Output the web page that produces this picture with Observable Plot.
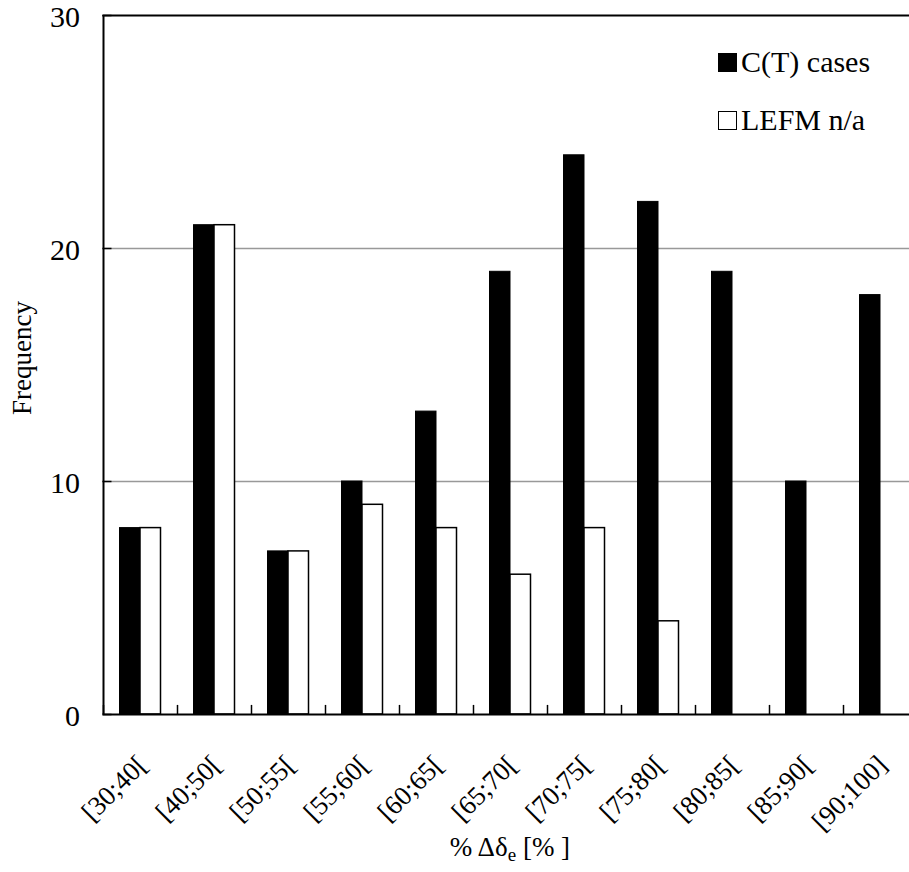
<!DOCTYPE html>
<html>
<head>
<meta charset="utf-8">
<script src="https://cdn.jsdelivr.net/npm/d3@7"></script>
<script src="https://cdn.jsdelivr.net/npm/@observablehq/plot@0.6"></script>
<style>
  html, body { margin: 0; padding: 0; background: white; overflow: hidden; }
  #wrap { position: relative; width: 909px; height: 872px; color: black; }
  #wrap, #wrap * { font-family: "Times New Roman", "Liberation Serif", Times, "DejaVu Serif", serif !important; }
  .lg { position: absolute; left: 718px; font-size: 30px; line-height: 30px; white-space: nowrap; }
  .lg .sw { display: inline-block; width: 19px; height: 19px; box-sizing: border-box; border: 1.5px solid black; margin-right: 4px; vertical-align: baseline; }
  #xtitle { position: absolute; left: 0; width: 1020px; text-align: center; top: 834px; font-size: 27px; line-height: 27px; white-space: pre; }
  #xtitle sub { font-size: 19px; line-height: 0; vertical-align: -5px; }
</style>
</head>
<body>
<div id="wrap">
  <div id="chart"></div>
  <div id="xtitle">% Δδ<sub>e</sub> [% ]</div>
</div>
<script>
const categories = ["[30;40[", "[40;50[", "[50;55[", "[55;60[", "[60;65[", "[65;70[", "[70;75[", "[75;80[", "[80;85[", "[85;90[", "[90;100]"];
const ctCases = [8, 21, 7, 10, 13, 19, 24, 22, 19, 10, 18];
const lefmNA = [8, 21, 7, 9, 8, 6, 8, 4, 0, 0, 0];
const seriesNames = ["C(T) cases", "LEFM n/a"];
const yTicks = [0, 10, 20, 30];
const gridTicks = [10, 20];

const rows = categories.map((c, i) => ({cat: c, ct: ctCases[i], lefm: lefmNA[i]}));
const serif = "'Times New Roman', 'Liberation Serif', Times, 'DejaVu Serif', serif";

const chart = Plot.plot({
  width: 909,
  height: 872,
  marginLeft: 102.5,
  marginRight: 0,
  marginTop: 15,
  marginBottom: 158,
  x: {domain: categories, range: [102.5, 916.5], padding: 0},
  y: {domain: [0, 30]},
  style: {fontFamily: serif, fontSize: "27px", background: "white", color: "black", overflow: "hidden"},
  marks: [
    Plot.ruleY(gridTicks, {stroke: "#999999", strokeWidth: 1.5}),
    Plot.barY(rows, {x: "cat", y: "ct", fill: "black", stroke: "black", strokeWidth: 1, insetLeft: 16.5, insetRight: 37}),
    Plot.barY(rows.filter(d => d.lefm > 0), {x: "cat", y: "lefm", fill: "white", stroke: "black", strokeWidth: 1.5, insetLeft: 37, insetRight: 16.5}),
    Plot.ruleY([0, 30], {stroke: "black", strokeWidth: 2}),
    Plot.ruleX([categories[0]], {dx: -37, stroke: "black", strokeWidth: 2}),
    Plot.ruleX(categories, {y1: 0, y2: 0.39, dx: -37, stroke: "black", strokeWidth: 1.5}),
    Plot.axisY({ticks: yTicks, tickSize: 9, dx: 9, tickFormat: () => "", label: null, strokeWidth: 1.5}),
    Plot.axisY({ticks: yTicks, tickSize: 0, tickPadding: 23, dy: 2, label: null, fontSize: 30, fontFamily: serif}),
    Plot.axisX({tickSize: 0, tickFormat: () => "", label: null}),
    Plot.text(categories, {x: d => d, y: 0, rotate: -45, textAnchor: "end", lineAnchor: "middle", dx: 2, dy: 46, fontSize: 27, fontFamily: serif}),
    Plot.text(["Frequency"], {frameAnchor: "left", textAnchor: "middle", rotate: -90, dx: -80.5, dy: -7, fontSize: 27, fontFamily: serif})
  ]
});
document.getElementById("chart").appendChild(chart);

const wrap = document.getElementById("wrap");
const legendTops = [47, 105];
seriesNames.forEach((name, i) => {
  const row = document.createElement("div");
  row.className = "lg";
  row.style.top = legendTops[i] + "px";
  const sw = document.createElement("span");
  sw.className = "sw";
  sw.style.background = i === 0 ? "black" : "white";
  row.appendChild(sw);
  row.appendChild(document.createTextNode(name));
  wrap.appendChild(row);
});
</script>
</body>
</html>
